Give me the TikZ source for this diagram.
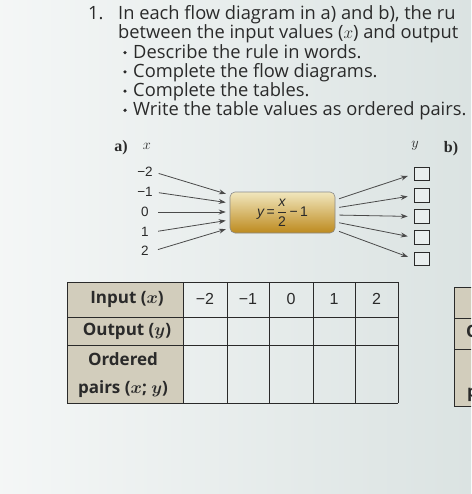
\documentclass[tikz,border=0pt]{standalone}
\usepackage{amsmath}
\usepackage{fontspec}
\setmainfont{Open Sans}
\newfontfamily\arialfont{Liberation Sans}
\newfontfamily\headfont{Open Sans}
\newfontfamily\timesfont{Liberation Serif}
\usetikzlibrary{arrows.meta,positioning,calc}
\definecolor{bgpaper}{HTML}{DBE3E2}
\definecolor{ink}{HTML}{2A2A2A}
\definecolor{headcol}{HTML}{D2CDBC}
\definecolor{goldtop}{HTML}{F1E7BE}
\definecolor{goldmid}{HTML}{D9B453}
\definecolor{goldbot}{HTML}{BD8A1E}
\tikzset{
  txt/.style={anchor=base west, text=ink, inner sep=0pt, font=\fontsize{18.3}{19}\selectfont},
  num/.style={text=ink, inner sep=1pt, minimum width=16pt, font=\arialfont\fontsize{13.5}{15}\selectfont},
  flow/.style={draw=ink!85, line width=0.8pt, -{Stealth[length=7pt,width=5pt]}},
  rulebox/.style={draw=ink!55, line width=0.6pt, rounded corners=5pt, minimum width=105pt, minimum height=41pt,
    inner sep=1pt, top color=goldtop, middle color=goldmid, bottom color=goldbot,
    font=\arialfont\fontsize{14}{15}\selectfont, text=ink},
  outbox/.style={draw=ink, line width=0.7pt, minimum width=15pt, minimum height=13.5pt, inner sep=0pt, fill=white!40!bgpaper},
  head/.style={text=ink, inner sep=0pt, align=center, font=\headfont\bfseries\fontsize{17}{28}\selectfont},
  tabline/.style={draw=ink, line width=0.8pt}
}
\begin{document}
\begin{tikzpicture}[x=1pt,y=-1pt]
\useasboundingbox (0,0) rectangle (471,494);
\clip (0,0) rectangle (471,494);
\shade[left color=white!70!bgpaper, right color=bgpaper] (0,0) rectangle (471,494);

% question text
\node[txt] (qnum) at (88,20) {1.};
\node[txt] (line1) at (118,20) {In each flow diagram in a) and b), the ru};
\node[txt] (line2) at (118,39) {between the input values ($x$) and output};
\foreach \t [count=\i] in {Describe the rule in words., Complete the flow diagrams., Complete the tables., Write the table values as ordered pairs.} {
  \node[txt] (item\i) at (133,39+19.2*\i) {\t};
  \fill[ink] (125,33.5+19.2*\i) circle (1.8);
}

% flow diagram a)
\node[text=ink, font=\timesfont\bfseries\fontsize{16}{17}\selectfont] (parta) at (121,148) {a)};
\node[text=ink, font=\fontsize{15}{16}\selectfont] (xhead) at (147,146) {$x$};
\node[text=ink, font=\fontsize{15}{16}\selectfont] (yhead) at (415,146) {$y$};
\node[text=ink, font=\timesfont\bfseries\fontsize{16}{17}\selectfont] (partb) at (451,149) {b)};

\node[rulebox] (rule) at (282.5,212.5) {{\itshape y}\,=\,$\dfrac{\text{\itshape x}}{\text{2}}$\,−\,1};

\foreach \v/\yy [count=\i] in {−2/172, −1/192, 0/212, 1/232, 2/251}
  \node[num] (in\i) at (145,\yy) {\v};
\foreach \yy [count=\i] in {174, 195.5, 216.5, 237.5, 259}
  \node[outbox] (out\i) at (421.5,\yy) {};

\foreach \s [count=\i] in {17.5, 9.5, 0.5, -7.5, -15.5}
  \draw[flow, shorten <=5pt, shorten >=4pt] (in\i.east) -- ([yshift=\s pt]rule.west);
\foreach \s [count=\i] in {12.5, 4.5, -2.5, -9.5, -17.5}
  \draw[flow, shorten <=4pt, shorten >=6pt] ([yshift=\s pt]rule.east) -- (out\i.west);

% table a)
\fill[headcol] (67,282) rectangle (183,403);
\foreach \xx in {67,183,227,269,313,355,398}
  \draw[tabline] (\xx,282) -- (\xx,403);
\foreach \yy in {282,317,345,403}
  \draw[tabline] (67,\yy) -- (398,\yy);
\node[head] (hinput) at (127,299) {Input ($\boldsymbol{x}$)};
\node[head] (houtput) at (127,331) {Output ($\boldsymbol{y}$)};
\node[head] (hpairs) at (123,375) {Ordered\\pairs ($\boldsymbol{x}$; $\boldsymbol{y}$)};
\foreach \v/\xx [count=\i] in {−2/205, −1/248, 0/291, 1/334, 2/376.5}
  \node[num, font=\arialfont\fontsize{16}{17}\selectfont] (val\i) at (\xx,299) {\v};

% table b), cut off at the edge
\fill[headcol] (454,287) rectangle (480,406);
\draw[tabline] (480,287) -- (454,287) -- (454,406) -- (480,406);
\draw[tabline] (454,318) -- (480,318);
\draw[tabline] (454,349) -- (480,349);
\node[head, anchor=west] (boutput) at (466,333) {Output ($\boldsymbol{y}$)};
\node[head, anchor=base west] (bpairs) at (467,397) {pairs ($\boldsymbol{x}$; $\boldsymbol{y}$)};
\end{tikzpicture}
\end{document}
